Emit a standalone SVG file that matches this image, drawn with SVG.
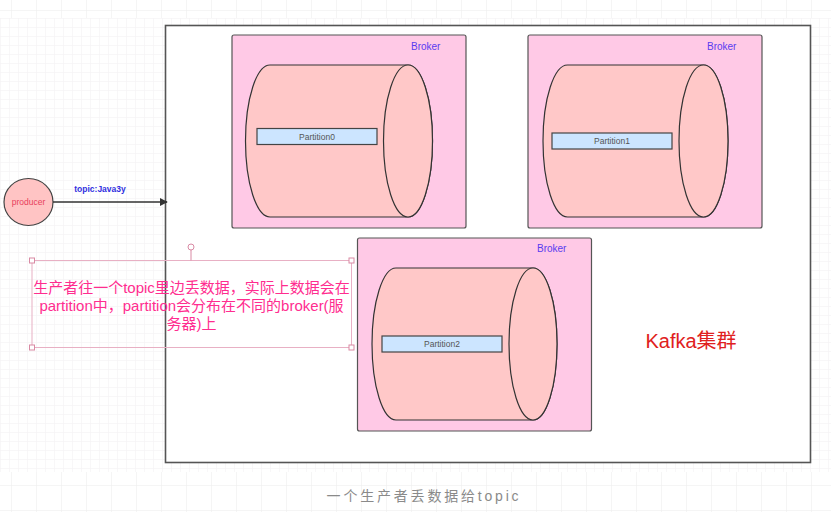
<svg xmlns="http://www.w3.org/2000/svg" width="831" height="512" viewBox="0 0 831 512">
  <defs>
    <pattern id="gridOuter" x="11" y="10" width="25" height="25" patternUnits="userSpaceOnUse">
      <path d="M0,0 H25 M0,0 V25" fill="none" stroke="#ececec" stroke-width="1"/>
    </pattern>
    <pattern id="gridInner" x="0" y="18" width="9" height="9" patternUnits="userSpaceOnUse">
      <path d="M0,0 H9 M0,0 V9" fill="none" stroke="#f2eff2" stroke-width="1"/>
    </pattern>
    <marker id="arrow" viewBox="0 0 10 10" refX="9" refY="5" markerWidth="8" markerHeight="8" markerUnits="userSpaceOnUse" orient="auto">
      <path d="M0,0 L10,5 L0,10 Z" fill="#333"/>
    </marker>
    <style>
      .broker { fill: #ffc9e6; stroke: #555; stroke-width: 1.2; }
      .cyl { fill: #ffc8c8; stroke: #333; stroke-width: 1.2; }
      .part { fill: #cce5ff; stroke: #444; stroke-width: 1.2; }
      .ptext { font-family: "Liberation Sans", "Noto Sans", sans-serif; font-size: 8.5px; fill: #555; text-anchor: middle; }
      .btext { font-family: "Liberation Sans", "Noto Sans", sans-serif; font-size: 10px; fill: #5a3cf0; }
      .handle { fill: #fff; stroke: #d98aa4; stroke-width: 1; }
    </style>
  </defs>

  <!-- background -->
  <rect x="0" y="0" width="831" height="512" fill="#ffffff"/>
  <rect x="0" y="0" width="831" height="512" fill="url(#gridOuter)"/>
  <rect x="0" y="18" width="831" height="454" fill="#ffffff"/>
  <rect x="0" y="18" width="831" height="454" fill="url(#gridInner)"/>

  <!-- Kafka cluster -->
  <g id="kafka-cluster">
    <rect x="165.5" y="25.5" width="645" height="437" fill="#ffffff" stroke="#555" stroke-width="1.6"/>
    <text x="691" y="348" font-family="'Liberation Sans', 'Noto Sans CJK SC', sans-serif" font-size="20" fill="#e02020" text-anchor="middle">Kafka集群</text>
  </g>

  <!-- Broker 1 -->
  <g id="broker0">
    <rect class="broker" x="232" y="35" width="234" height="193" rx="2"/>
    <text class="btext" x="411" y="49.5">Broker</text>
    <path class="cyl" d="M270,65 L408,65 A24.5,76 0 0 1 408,217 L270,217 A24.5,76 0 0 1 270,65 Z"/>
    <ellipse class="cyl" cx="408" cy="141" rx="24.5" ry="76"/>
    <rect class="part" x="257" y="128.5" width="120" height="16"/>
    <text class="ptext" x="317" y="139.5">Partition0</text>
  </g>

  <!-- Broker 2 -->
  <g id="broker1">
    <rect class="broker" x="528" y="35" width="234" height="193" rx="2"/>
    <text class="btext" x="707" y="49.5">Broker</text>
    <path class="cyl" d="M567.5,65 L703.5,65 A24.5,76 0 0 1 703.5,217 L567.5,217 A24.5,76 0 0 1 567.5,65 Z"/>
    <ellipse class="cyl" cx="703.5" cy="141" rx="24.5" ry="76"/>
    <rect class="part" x="552" y="133" width="120" height="16"/>
    <text class="ptext" x="612" y="144">Partition1</text>
  </g>

  <!-- Broker 3 -->
  <g id="broker2">
    <rect class="broker" x="357.5" y="238" width="234" height="193" rx="2"/>
    <text class="btext" x="537" y="252">Broker</text>
    <path class="cyl" d="M396,268 L533,268 A24,76 0 0 1 533,420 L396,420 A24,76 0 0 1 396,268 Z"/>
    <ellipse class="cyl" cx="533" cy="344" rx="24" ry="76"/>
    <rect class="part" x="382" y="336" width="120" height="16"/>
    <text class="ptext" x="442" y="347">Partition2</text>
  </g>

  <!-- Producer -->
  <g id="producer">
    <ellipse cx="28.5" cy="202" rx="24.5" ry="23.5" fill="#ffc4c4" stroke="#444" stroke-width="1.2"/>
    <text x="28.5" y="205" font-family="'Liberation Sans', 'Noto Sans', sans-serif" font-size="8.5" fill="#e8405c" text-anchor="middle">producer</text>
  </g>

  <!-- Connectors -->
  <g id="connectors">
    <line x1="53" y1="202" x2="167" y2="202" stroke="#333" stroke-width="1.3" marker-end="url(#arrow)"/>
    <text x="100" y="192" font-family="'Liberation Sans', 'Noto Sans', sans-serif" font-size="8.5" font-weight="bold" fill="#3030e0" text-anchor="middle">topic:Java3y</text>
  </g>

  <!-- Annotation (selected text box) -->
  <g id="annotation">
    <rect x="32" y="260.5" width="319.5" height="87" fill="none" stroke="#e8b0c4" stroke-width="1"/>
    <line x1="191" y1="250" x2="191" y2="260.5" stroke="#d98aa4" stroke-width="1"/>
    <circle class="handle" cx="191" cy="247" r="3"/>
    <rect class="handle" x="29.5" y="258" width="5" height="5"/>
    <rect class="handle" x="349" y="258" width="5" height="5"/>
    <rect class="handle" x="29.5" y="345" width="5" height="5"/>
    <rect class="handle" x="349" y="345" width="5" height="5"/>
    <g font-family="'Liberation Sans', 'Noto Sans CJK SC', sans-serif" font-size="15" fill="#ff2d8f" text-anchor="middle">
      <text x="191.5" y="293">生产者往一个topic里边丢数据，实际上数据会在</text>
      <text x="191.5" y="311">partition中，partition会分布在不同的broker(服</text>
      <text x="191.5" y="329">务器)上</text>
    </g>
  </g>

  <!-- Caption -->
  <text x="424" y="501" font-family="'Liberation Sans', 'Noto Sans CJK SC', sans-serif" font-size="14" fill="#8a8a8a" letter-spacing="2.8" text-anchor="middle">一个生产者丢数据给topic</text>
</svg>
